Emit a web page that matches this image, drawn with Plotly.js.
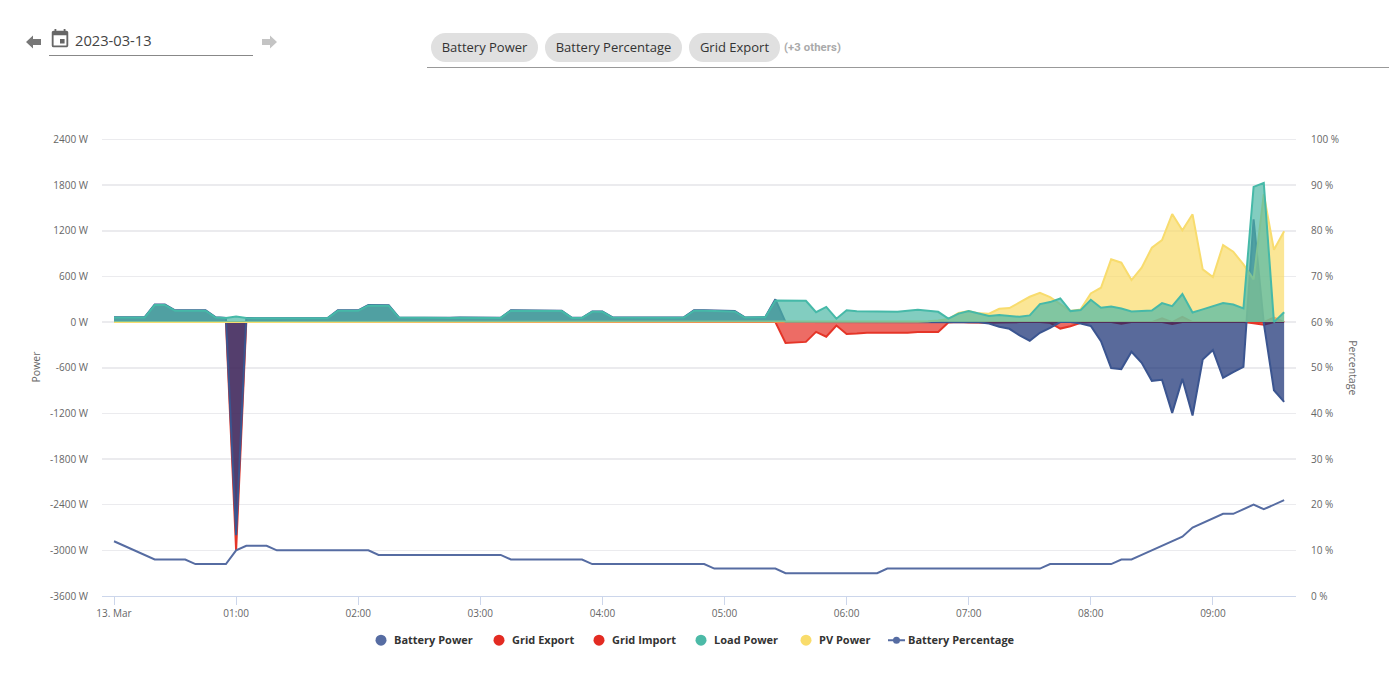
<!DOCTYPE html>
<html>
<head>
<meta charset="utf-8">
<script src="https://cdn.plot.ly/plotly-3.0.1.min.js"></script>
<style>
html,body{margin:0;padding:0;background:#fff;font-family:"Open Sans",sans-serif;overflow:hidden}
#chart{position:absolute;left:0;top:0;width:1389px;height:687px}
.ui{position:absolute;z-index:5}
.chip{top:33px;height:29px;line-height:29px;background:#e0e0e0;border-radius:15px;text-align:center;font-size:13px;color:#333}
</style>
</head>
<body>
<div id="chart"></div>
<svg class="ui" style="left:25px;top:34px" width="17" height="16" viewBox="0 0 17 16"><path d="M1 8 L8 1.5 V5 H16 V11 H8 V14.5 Z" fill="#777"/></svg>
<svg class="ui" style="left:49px;top:27px" width="22" height="24" viewBox="0 0 24 24"><path fill="#666" d="M17 12h-5v5h5v-5zM16 1v2H8V1H6v2H5c-1.11 0-1.99.9-1.99 2L3 19a2 2 0 0 0 2 2h14c1.1 0 2-.9 2-2V5c0-1.1-.9-2-2-2h-1V1h-2zm3 18H5V8h14v11z"/></svg>
<div class="ui" style="left:75px;top:29px;font-size:14.7px;line-height:22px;color:#444">2023-03-13</div>
<div class="ui" style="left:49px;top:55px;width:204px;height:1px;background:#888"></div>
<svg class="ui" style="left:261px;top:34px" width="17" height="16" viewBox="0 0 17 16"><path d="M16 8 L9 1.5 V5 H1 V11 H9 V14.5 Z" fill="#c4c4c4"/></svg>
<div class="ui chip" style="left:431px;width:107px">Battery Power</div>
<div class="ui chip" style="left:545px;width:137px">Battery Percentage</div>
<div class="ui chip" style="left:689px;width:91px">Grid Export</div>
<div class="ui" style="left:784px;top:40px;font:bold 11.3px Roboto,sans-serif;line-height:15px;color:#aaa;letter-spacing:0.1px">(+3 others)</div>
<div class="ui" style="left:427px;top:67px;width:962px;height:1px;background:#999"></div>
<script>
const times = ["2023-03-13 00:00","2023-03-13 00:05","2023-03-13 00:10","2023-03-13 00:15","2023-03-13 00:20","2023-03-13 00:25","2023-03-13 00:30","2023-03-13 00:35","2023-03-13 00:40","2023-03-13 00:45","2023-03-13 00:50","2023-03-13 00:55",
"2023-03-13 01:00","2023-03-13 01:05","2023-03-13 01:10","2023-03-13 01:15","2023-03-13 01:20","2023-03-13 01:25","2023-03-13 01:30","2023-03-13 01:35","2023-03-13 01:40","2023-03-13 01:45","2023-03-13 01:50","2023-03-13 01:55",
"2023-03-13 02:00","2023-03-13 02:05","2023-03-13 02:10","2023-03-13 02:15","2023-03-13 02:20","2023-03-13 02:25","2023-03-13 02:30","2023-03-13 02:35","2023-03-13 02:40","2023-03-13 02:45","2023-03-13 02:50","2023-03-13 02:55",
"2023-03-13 03:00","2023-03-13 03:05","2023-03-13 03:10","2023-03-13 03:15","2023-03-13 03:20","2023-03-13 03:25","2023-03-13 03:30","2023-03-13 03:35","2023-03-13 03:40","2023-03-13 03:45","2023-03-13 03:50","2023-03-13 03:55",
"2023-03-13 04:00","2023-03-13 04:05","2023-03-13 04:10","2023-03-13 04:15","2023-03-13 04:20","2023-03-13 04:25","2023-03-13 04:30","2023-03-13 04:35","2023-03-13 04:40","2023-03-13 04:45","2023-03-13 04:50","2023-03-13 04:55",
"2023-03-13 05:00","2023-03-13 05:05","2023-03-13 05:10","2023-03-13 05:15","2023-03-13 05:20","2023-03-13 05:25","2023-03-13 05:30","2023-03-13 05:35","2023-03-13 05:40","2023-03-13 05:45","2023-03-13 05:50","2023-03-13 05:55",
"2023-03-13 06:00","2023-03-13 06:05","2023-03-13 06:10","2023-03-13 06:15","2023-03-13 06:20","2023-03-13 06:25","2023-03-13 06:30","2023-03-13 06:35","2023-03-13 06:40","2023-03-13 06:45","2023-03-13 06:50","2023-03-13 06:55",
"2023-03-13 07:00","2023-03-13 07:05","2023-03-13 07:10","2023-03-13 07:15","2023-03-13 07:20","2023-03-13 07:25","2023-03-13 07:30","2023-03-13 07:35","2023-03-13 07:40","2023-03-13 07:45","2023-03-13 07:50","2023-03-13 07:55",
"2023-03-13 08:00","2023-03-13 08:05","2023-03-13 08:10","2023-03-13 08:15","2023-03-13 08:20","2023-03-13 08:25","2023-03-13 08:30","2023-03-13 08:35","2023-03-13 08:40","2023-03-13 08:45","2023-03-13 08:50","2023-03-13 08:55",
"2023-03-13 09:00","2023-03-13 09:05","2023-03-13 09:10","2023-03-13 09:15","2023-03-13 09:20","2023-03-13 09:25","2023-03-13 09:30","2023-03-13 09:35"];
const loadPower = [60,60,60,60,225,225,150,150,150,150,60,55,
75,55,52,52,50,55,55,52,52,52,150,150,
150,220,215,215,60,58,58,58,55,55,58,58,
55,55,55,150,150,148,148,145,145,55,55,135,
135,60,58,58,58,58,58,58,60,150,150,148,
145,140,60,60,65,285,285,280,280,130,200,45,
155,142,142,138,142,135,148,162,150,135,45,112,
145,115,80,92,80,70,88,237,263,311,145,158,
294,189,206,180,140,145,153,250,210,368,127,167,
210,250,232,180,1778,1831,0,130];
const batteryPower = [63,63,63,63,232,232,155,155,155,155,63,55,
-2800,55,52,52,50,55,55,52,52,52,155,155,
155,226,222,222,62,60,60,60,57,57,60,60,
57,57,57,155,155,153,153,150,150,57,57,140,
140,62,60,60,60,60,60,60,62,155,155,153,
150,145,62,62,65,300,0,0,0,0,0,0,
0,0,0,0,0,-3,-3,-3,-3,-3,-3,-3,
-3,-3,-20,-60,-88,-175,-245,-140,-75,0,0,-20,
-50,-250,-605,-618,-390,-535,-772,-759,-1193,-746,-1228,-491,
-368,-732,-658,-588,1350,-15,-895,-1048];
const gridExport = [0,0,0,0,0,0,0,0,0,0,0,0,
-3000,0,0,0,0,0,0,0,0,0,0,0,
0,0,0,0,0,0,0,0,0,0,0,0,
0,0,0,0,0,0,0,0,0,0,0,0,
0,0,0,0,0,0,0,0,0,0,0,0,
0,0,0,0,0,0,-275,-272,-260,-128,-192,-45,
-155,-150,-140,-140,-140,-145,-140,-130,-130,-130,-5,0,
-5,-10,-10,-5,0,0,0,0,-10,-85,-55,-10,
0,0,0,-20,0,0,0,0,-25,0,0,0,
0,0,0,0,-15,-35,0,0];
const gridImport = [0,0,0,0,0,0,0,0,0,0,0,0,
0,0,0,0,0,0,0,0,0,0,0,0,
0,0,0,0,0,0,0,0,0,0,0,0,
0,0,0,0,0,0,0,0,0,0,0,0,
0,0,0,0,0,0,0,0,0,0,0,0,
0,0,0,0,0,0,0,0,0,0,0,0,
0,0,0,0,0,0,0,0,0,0,0,0,
0,0,0,0,0,0,0,0,0,0,0,0,
0,0,0,0,0,0,0,50,0,70,0,0,
0,0,0,0,0,0,60,0];
const pvPower = [0,0,0,0,0,0,0,0,0,0,0,0,
0,0,0,0,0,0,0,0,0,0,0,0,
0,0,0,0,0,0,0,0,0,0,0,0,
0,0,0,0,0,0,0,0,0,0,0,0,
0,0,0,0,0,0,0,0,0,0,0,0,
0,0,0,0,0,0,0,0,0,0,0,0,
1,1,2,2,3,3,5,8,12,20,40,120,
145,115,110,175,185,263,333,386,329,237,145,167,
377,452,825,781,553,715,978,1079,1421,1206,1417,693,
592,1013,925,759,561,1680,950,1195];
const batteryPct = [12,11,10,9,8,8,8,8,7,7,7,7,
10,11,11,11,10,10,10,10,10,10,10,10,
10,10,9,9,9,9,9,9,9,9,9,9,
9,9,9,8,8,8,8,8,8,8,8,7,
7,7,7,7,7,7,7,7,7,7,7,6,
6,6,6,6,6,6,5,5,5,5,5,5,
5,5,5,5,6,6,6,6,6,6,6,6,
6,6,6,6,6,6,6,6,7,7,7,7,
7,7,7,8,8,9,10,11,12,13,15,16,
17,18,18,19,20,19,20,21];
const tickDates = ["2023-03-13 00:00","2023-03-13 01:00","2023-03-13 02:00","2023-03-13 03:00","2023-03-13 04:00","2023-03-13 05:00","2023-03-13 06:00","2023-03-13 07:00","2023-03-13 08:00","2023-03-13 09:00"];
const tickLabels = ["13. Mar","01:00","02:00","03:00","04:00","05:00","06:00","07:00","08:00","09:00"];
const powerTicks = [2400,1800,1200,600,0,-600,-1200,-1800,-2400,-3000,-3600];
const powerLabels = ["2400 W","1800 W","1200 W","600 W","0 W","-600 W","-1200 W","-1800 W","-2400 W","-3000 W","-3600 W"];
const pctTicks = [100,90,80,70,60,50,40,30,20,10,0];
const pctLabels = ["100 %","90 %","80 %","70 %","60 %","50 %","40 %","30 %","20 %","10 %","0 %"];

const area = (name,y,line,fill)=>({type:'scatter',mode:'lines',name,x:times,y,fill:'tozeroy',fillcolor:fill,line:{color:line,width:2},showlegend:false,hoverinfo:'skip'});
const key = (name,color,rank)=>({type:'scatter',mode:'markers',name,x:[null],y:[null],marker:{color,size:11,symbol:'circle'},legendrank:rank,hoverinfo:'skip'});
const traces = [
  area('Grid Export',gridExport,'#e53528','rgba(229,45,35,0.7)'),
  area('Grid Import',gridImport,'#e53528','rgba(229,45,35,0.7)'),
  area('Battery Power',batteryPower,'#3b5590','rgba(19,43,112,0.7)'),
  area('PV Power',pvPower,'#f8dc6e','rgba(249,220,106,0.7)'),
  area('Load Power',loadPower,'#46b9a8','rgba(77,184,165,0.7)'),
  {type:'scatter',mode:'lines',name:'Battery Percentage',x:times,y:batteryPct,yaxis:'y2',line:{color:'#566ca2',width:2},showlegend:false,hoverinfo:'skip'},
  key('Battery Power','#566ca2',1),
  key('Grid Export','#e32b22',2),
  key('Grid Import','#e32b22',3),
  key('Load Power','#4cbaa7',4),
  key('PV Power','#f9dc6b',5),
  {type:'scatter',mode:'lines+markers',name:'Battery Percentage',x:[null],y:[null],yaxis:'y2',line:{color:'#566ca2',width:2},marker:{color:'#566ca2',size:7},legendrank:6,hoverinfo:'skip'}
];
const tickFont = {family:'"Open Sans",sans-serif',size:10,color:'#666'};
const layout = {
  width:1389,height:687,
  margin:{l:102,r:93,t:138.48,b:91,pad:0},
  paper_bgcolor:'rgba(0,0,0,0)',plot_bgcolor:'rgba(0,0,0,0)',
  font:{family:'"Open Sans",sans-serif',color:'#666'},
  showlegend:true,
  legend:{orientation:'h',x:0.4966,xanchor:'center',y:-0.0965,yanchor:'middle',font:{family:'"Open Sans",sans-serif',size:11,color:'#333',weight:700},itemwidth:30,bgcolor:'rgba(0,0,0,0)',traceorder:'normal'},
  xaxis:{type:'date',range:['2023-03-12 23:54:06','2023-03-13 09:40:50'],tickmode:'array',tickvals:tickDates,ticktext:tickLabels,tickfont:tickFont,showgrid:false,zeroline:false,showline:true,linecolor:'#ccd6eb',linewidth:1,ticks:'outside',ticklen:8,tickcolor:'#ccd6eb',tickwidth:1},
  yaxis:{range:[-3600,2420],tickmode:'array',tickvals:powerTicks,ticktext:powerLabels,tickfont:tickFont,showgrid:true,gridcolor:'#ebebee',gridwidth:1.5,zeroline:false,showline:false,ticks:'',ticklabelstandoff:13,title:{text:'Power',font:{family:'"Open Sans",sans-serif',size:10.5,color:'#666'},standoff:7}},
  yaxis2:{overlaying:'y',side:'right',range:[0,100.3333],tickmode:'array',tickvals:pctTicks,ticktext:pctLabels,tickfont:tickFont,showgrid:false,zeroline:false,showline:false,ticks:'',ticklabelstandoff:14},
  annotations:[{text:'Percentage',xref:'paper',yref:'paper',x:(1353-102)/1194,y:(596-367.5)/457.52,xanchor:'center',yanchor:'middle',textangle:90,showarrow:false,font:{family:'"Open Sans",sans-serif',size:10.5,color:'#666'}}]
};
Plotly.newPlot('chart',traces,layout,{displayModeBar:false,staticPlot:true}).then(gd=>{
  // Legend entries sit closer together in the reference than Plotly's minimum spacing allows.
  const legendTextStart = [394,512,612,714,819,908];
  const legend = gd.querySelector('.legend');
  const lx = parseFloat(legend.getAttribute('transform').match(/translate\(([-\d.]+)/)[1]);
  gd.querySelectorAll('.legend .traces').forEach((entry,i)=>{
    const ty = entry.getAttribute('transform').match(/,\s*([-\d.]+)\)/)[1];
    entry.setAttribute('transform',`translate(${legendTextStart[i]-40-lx},${ty})`);
    const isLine = i===legendTextStart.length-1;
    const points = entry.querySelector('.legendpoints');
    if(points) points.setAttribute('transform',`translate(${isLine?8.5:7},0)`);
    const linePath = entry.querySelector('.legendlines path');
    if(linePath) linePath.setAttribute('d','M20,0h17');
  });
});
</script>
</body>
</html>
